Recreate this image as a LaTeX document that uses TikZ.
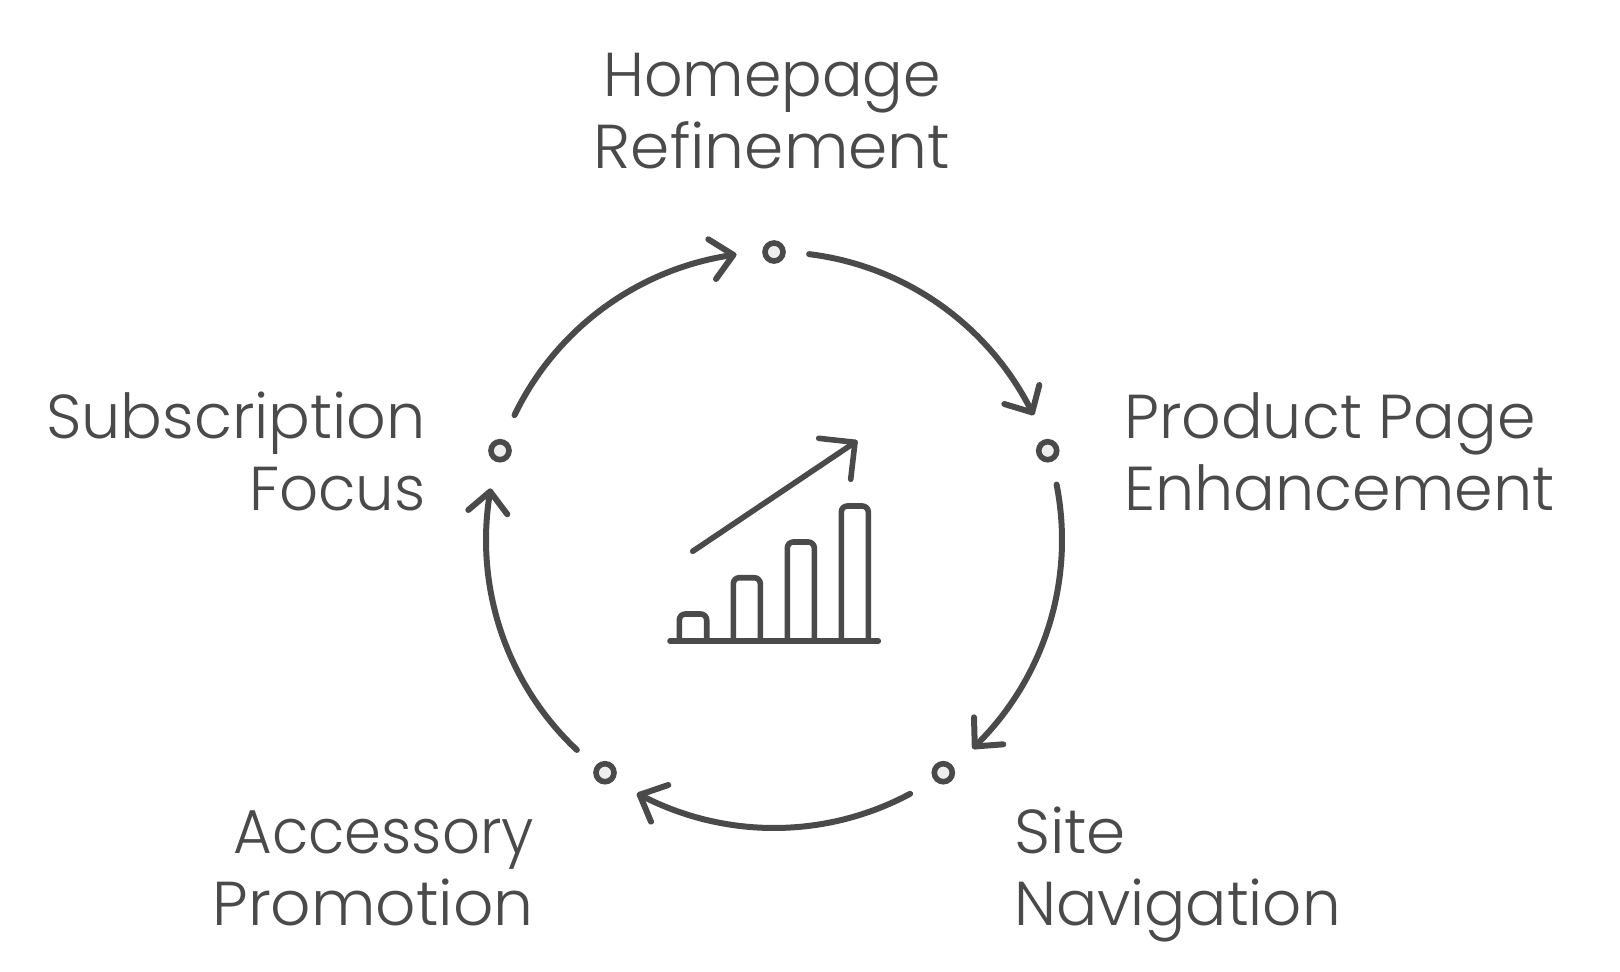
\documentclass[tikz,border=0pt]{standalone}
\usepackage{fontspec}
\usepackage{graphicx}
\setmainfont{Poppins Light}[FakeStretch=0.985]
\definecolor{ink}{HTML}{4A4A4A}
\definecolor{dotfill}{HTML}{EEEEEE}
\newcommand{\fitw}[2]{\scalebox{#1}[1]{#2}}
\tikzset{
  flow/.style={draw=ink,line width=6pt,line cap=round,line join=round},
  icon/.style={draw=ink,line width=5.6pt,line cap=round,line join=round},
  stopdot/.style={circle,draw=ink,fill=dotfill,line width=5.6pt,minimum size=18pt,inner sep=0pt},
  lbl/.style={text=ink,inner sep=0pt,font=\fontsize{62}{72}\selectfont}
}
\begin{document}
\begin{tikzpicture}[x=1pt,y=1pt]
\useasboundingbox (0,0) rectangle (1620,-972);
\fill[white] (0,0) rectangle (1620,-972);
\coordinate (c) at (774,-540);
% stops
\node[stopdot] (d1) at (774,-252) {};
\node[stopdot] (d2) at (1047.7,-450.7) {};
\node[stopdot] (d3) at (943.3,-772.7) {};
\node[stopdot] (d4) at (605,-772.7) {};
\node[stopdot] (d5) at (500,-450.7) {};
% arcs
\draw[flow] ([shift={(154.3:288)}]c) arc[start angle=154.3,end angle=98.1,radius=288];
\draw[flow] ([shift={(83:288)}]c) arc[start angle=83,end angle=26.3,radius=288];
\draw[flow] ([shift={(11.1:288)}]c) arc[start angle=11.1,end angle=-45.8,radius=288];
\draw[flow] ([shift={(-61.8:288)}]c) arc[start angle=-61.8,end angle=-117.8,radius=288];
\draw[flow] ([shift={(-133.2:288)}]c) arc[start angle=-133.2,end angle=-189.7,radius=288];
% heads
\draw[flow] (708.3,-239.3) -- ([shift={(98.1:288)}]c) -- (716,-279);
\draw[flow] (1039.3,-385) -- ([shift={(26.3:288)}]c) -- (1004.3,-404);
\draw[flow] (1003.3,-744.3) -- ([shift={(-45.8:288)}]c) -- (974,-717.3);
\draw[flow] (668.3,-785) -- ([shift={(-117.8:288)}]c) -- (651,-821.7);
\draw[flow] (468.3,-510) -- ([shift={(-189.7:288)}]c) -- (507.3,-514.3);
% icon
\draw[icon] (670,-641) -- (878.3,-641);
\draw[icon,rounded corners=6pt] (679.3,-641) |- (706.7,-614) -- (706.7,-641);
\draw[icon,rounded corners=6pt] (733.3,-641) |- (760.3,-577.7) -- (760.3,-641);
\draw[icon,rounded corners=6pt] (787.3,-641) |- (814.3,-542) -- (814.3,-641);
\draw[icon,rounded corners=6pt] (841.3,-641) |- (868.3,-506) -- (868.3,-641);
\draw[icon] (692.7,-551.3) -- (855,-442.3);
\draw[icon] (818.7,-438.3) -- (855,-442.3) -- (850.7,-479.3);
% labels
\node[lbl,align=center,anchor=base] (l1) at (772,-168) {\fitw{0.985}{Homepage}\\\fitw{1.033}{Refinement}};
\node[lbl,align=left,anchor=base west] (l2) at (1124,-510) {\fitw{1.013}{Product Page}\\\fitw{1.015}{Enhancement}};
\node[lbl,align=left,anchor=base west] (l3) at (1014,-925) {\fitw{1.03}{Site}\\Navigation};
\node[lbl,align=right,anchor=base east] (l4) at (534,-925) {\fitw{0.97}{Accessory}\\\fitw{1.033}{Promotion}};
\node[lbl,align=right,anchor=base east] (l5) at (426,-510) {\fitw{1.014}{Subscription}\\Focus};
\end{tikzpicture}
\end{document}
